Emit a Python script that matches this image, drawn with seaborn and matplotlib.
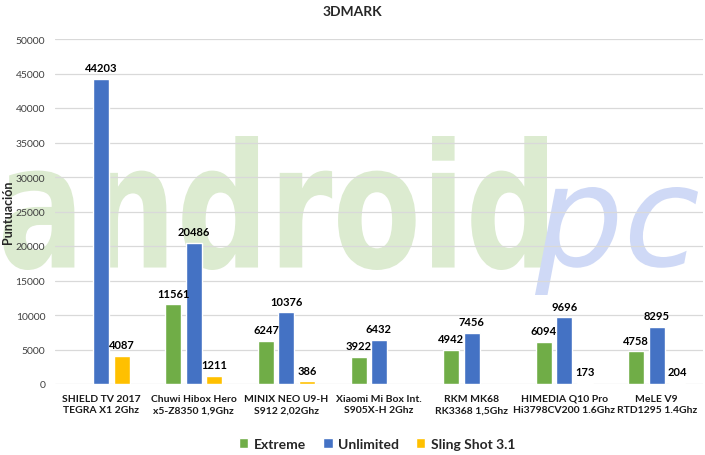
import numpy as np
import pandas as pd
import matplotlib
matplotlib.use("Agg")
import matplotlib.pyplot as plt
import seaborn as sns
from matplotlib.textpath import TextPath
from matplotlib.patches import PathPatch
from matplotlib.font_manager import FontProperties
import matplotlib.transforms as mtransforms

categories = ["SHIELD TV 2017\nTEGRA X1 2Ghz", "Chuwi Hibox Hero\nx5-Z8350 1,9Ghz",
              "MINIX NEO U9-H\nS912 2,02Ghz", "Xiaomi Mi Box Int.\nS905X-H 2Ghz",
              "RKM MK68\nRK3368 1,5Ghz", "HIMEDIA Q10 Pro\nHi3798CV200 1.6Ghz",
              "MeLE V9\nRTD1295 1.4Ghz"]
series = ["Extreme", "Unlimited", "Sling Shot 3.1"]
extreme = [np.nan, 11561, 6247, 3922, 4942, 6094, 4758]
unlimited = [44203, 20486, 10376, 6432, 7456, 9696, 8295]
sling = [4087, 1211, 386, np.nan, np.nan, 173, 204]
colors = ["#70AD47", "#4472C4", "#FFC000"]

rows = []
for s, vals in zip(series, [extreme, unlimited, sling]):
    for c, v in zip(categories, vals):
        rows.append({"cat": c, "series": s, "value": v})
df = pd.DataFrame(rows)

sns.set_style("white")
plt.rcParams["font.family"] = ["Lato", "DejaVu Sans"]

W, H = 705, 456
fig = plt.figure(figsize=(W / 100, H / 100), dpi=100)
ax = fig.add_axes([55 / W, 1 - 385 / H, (703 - 55) / W, (385 - 40) / H])

sns.barplot(data=df, x="cat", y="value", hue="series", order=categories,
            hue_order=series, palette=colors, errorbar=None, width=0.664,
            gap=0.22, ax=ax, legend=True, saturation=1)

for cont in ax.containers:
    labels = ["" if np.isnan(v) else f"{int(v)}" for v in cont.datavalues]
    ax.bar_label(cont, labels=labels, padding=4, fontsize=8, fontweight="bold",
                 color="#000000")

ax.set_ylim(0, 50000)
ax.set_xlim(-0.5, len(categories) - 0.5)
ax.set_yticks(range(0, 50001, 5000))
ax.yaxis.grid(True, color="#D9D9D9", linewidth=0.9)
ax.set_axisbelow(True)
for sp in ax.spines.values():
    sp.set_visible(False)
ax.tick_params(axis="y", length=0, labelsize=7.5, labelcolor="#404040", pad=7)
ax.tick_params(axis="x", length=0, pad=7)
ax.set_xticks(range(len(categories)))
ax.set_xticklabels(categories, fontsize=7.5, fontweight="bold", color="#1a1a1a",
                   linespacing=1.35)
ax.set_xlabel("")
ax.set_ylabel("Puntuación", fontsize=9, fontweight="bold")
ax.yaxis.set_label_coords(-0.063, 0.5)

fig.text(352 / W, 1 - 12 / H, "3DMARK", ha="center", va="center",
         fontsize=10, fontweight="bold")

handles, labels = ax.get_legend_handles_labels()
ax.get_legend().remove()
fig.legend(handles, labels, loc="center", bbox_to_anchor=(377 / W, 1 - 445 / H),
           ncol=3, frameon=False, handlelength=0.7, handleheight=0.7,
           handletextpad=0.4, columnspacing=1.2,
           prop={"weight": "bold", "size": 10})

# watermark
def watermark(text, fp, box, color):
    tp = TextPath((0, 0), text, prop=fp, size=100)
    ext = tp.get_extents()
    x0, y0, x1, y1 = box
    sx = (x1 - x0) / ext.width / W
    sy = (y1 - y0) / ext.height / H
    tr = (mtransforms.Affine2D().translate(-ext.x0, -ext.y0).scale(sx, sy)
          .translate(x0 / W, 1 - y1 / H) + fig.transFigure)
    patch = PathPatch(tp, fc=color, ec="none", transform=tr, zorder=0.2,
                      clip_on=False)
    ax.add_artist(patch)

watermark("android", FontProperties(family="DejaVu Sans", weight="bold"),
          (3, 137, 547, 271), "#DCEBD0")
watermark("pc", FontProperties(family="DejaVu Sans", weight="light", style="oblique"),
          (535, 188, 698, 296), "#CFD9F6")

fig.savefig("out.png", dpi=100)
